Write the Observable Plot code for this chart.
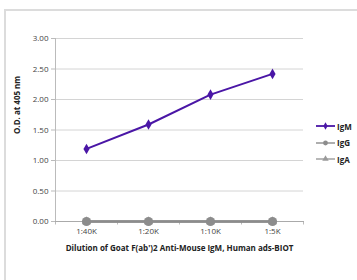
<!DOCTYPE html>
<html><head><meta charset="utf-8">
<script src="https://cdn.jsdelivr.net/npm/d3@7"></script>
<script src="https://cdn.jsdelivr.net/npm/@observablehq/plot@0.6"></script>
<style>
body{margin:0;background:#fff}
#wrap{position:relative;width:357px;height:280px;overflow:hidden;font-family:"Open Sans",Lato,sans-serif}
#frame{position:absolute;left:4px;top:9px;right:-10px;bottom:-10px;border-left:2px solid #dcdcdc;border-top:2px solid #dcdcdc}
#chart{position:absolute;left:0;top:0}
#legend{position:absolute;left:316px;top:118px;font-weight:bold;font-size:8px;color:#222}
#legend .row{display:flex;align-items:center;height:16.5px}
#legend svg{display:block;margin-right:1px}
</style></head><body>
<div id="wrap"><div id="frame"></div><div id="chart"></div><div id="legend"></div></div>
<script>
const dilutions = ["1:40K", "1:20K", "1:10K", "1:5K"];
const igM = [1.19, 1.59, 2.08, 2.42];
const igG = [0, 0, 0, 0];
const igA = [0, 0, 0, 0];
const yTicks = [0, 0.5, 1, 1.5, 2, 2.5, 3];
const seriesNames = ["IgM", "IgG", "IgA"];
const seriesColors = ["#4a16a6", "#8c8c8c", "#9a9a9a"];
const seriesSymbols = ["diamond", "circle", "triangle"];
const xLabel = "Dilution of Goat F(ab')2 Anti-Mouse IgM, Human ads-BIOT";
const yLabel = "O.D. at 405 nm";

const seriesValues = [igM, igG, igA];
const rows = [];
seriesNames.forEach((s, k) => seriesValues[k].forEach((v, i) => rows.push({series: s, i, label: dilutions[i], value: v})));
const n = dilutions.length;
const boundaries = d3.range(n + 1).map(i => i - 0.5);
const drawOrder = ["IgA", "IgG", "IgM"];
const FONT = "'Open Sans', Lato, sans-serif";

const marks = [
  Plot.gridY(yTicks, {stroke: "#d4d4d4", strokeOpacity: 1, strokeWidth: 1}),
  Plot.axisY(yTicks, {tickSize: 4, tickPadding: 3, tickFormat: d3.format(".2f"), stroke: "#bbb", fill: "#444", fontSize: 8, label: null}),
  Plot.axisX(d3.range(n), {tickSize: 0, tickPadding: 7, tickFormat: i => dilutions[i], fill: "#444", fontSize: 8, label: null}),
  Plot.axisX(boundaries, {tickSize: 3.5, tickFormat: () => "", stroke: "#bbb", label: null}),
  Plot.frame({anchor: "left", stroke: "#bbb"}),
  Plot.frame({anchor: "bottom", stroke: "#aaa"})
];
drawOrder.forEach(s => {
  const k = seriesNames.indexOf(s);
  const data = rows.filter(d => d.series === s);
  marks.push(Plot.line(data, {x: "i", y: "value", stroke: seriesColors[k], strokeWidth: k === 0 ? 2 : 2.6}));
  marks.push(Plot.dot(data, {x: "i", y: "value", symbol: () => seriesSymbols[k], fill: seriesColors[k], stroke: "none", r: k === 0 ? 3.2 : k === 1 ? 4.6 : 3.4}));
});
marks.push(Plot.text([xLabel], {frameAnchor: "bottom", dy: 29, fontWeight: "bold", fontSize: 8, fill: "#222"}));
marks.push(Plot.text([yLabel], {frameAnchor: "left", dx: -38, dy: 4, rotate: -90, fontWeight: "bold", fontSize: 8, fill: "#222"}));

const chart = Plot.plot({
  width: 357, height: 280,
  marginLeft: 55, marginRight: 54, marginTop: 38, marginBottom: 59,
  style: {background: "transparent", fontFamily: FONT},
  x: {type: "linear", domain: [-0.5, n - 0.5]},
  y: {domain: [0, 3]},
  marks
});
document.getElementById("chart").appendChild(chart);

const legend = document.getElementById("legend");
seriesNames.forEach((s, k) => {
  const row = document.createElement("div");
  row.className = "row";
  const sw = d3.create("svg").attr("width", 20).attr("height", 8);
  sw.append("line").attr("x1", 0).attr("x2", 19).attr("y1", 4).attr("y2", 4).attr("stroke", seriesColors[k]).attr("stroke-width", k === 0 ? 1.8 : 1.4);
  sw.append("path").attr("transform", "translate(9.5,4)").attr("fill", seriesColors[k])
    .attr("d", d3.symbol(k === 0 ? d3.symbolDiamond : k === 1 ? d3.symbolCircle : d3.symbolTriangle, k === 0 ? 16 : 18)());
  row.appendChild(sw.node());
  const t = document.createElement("span");
  t.textContent = s;
  row.appendChild(t);
  legend.appendChild(row);
});
</script>
</body></html>
